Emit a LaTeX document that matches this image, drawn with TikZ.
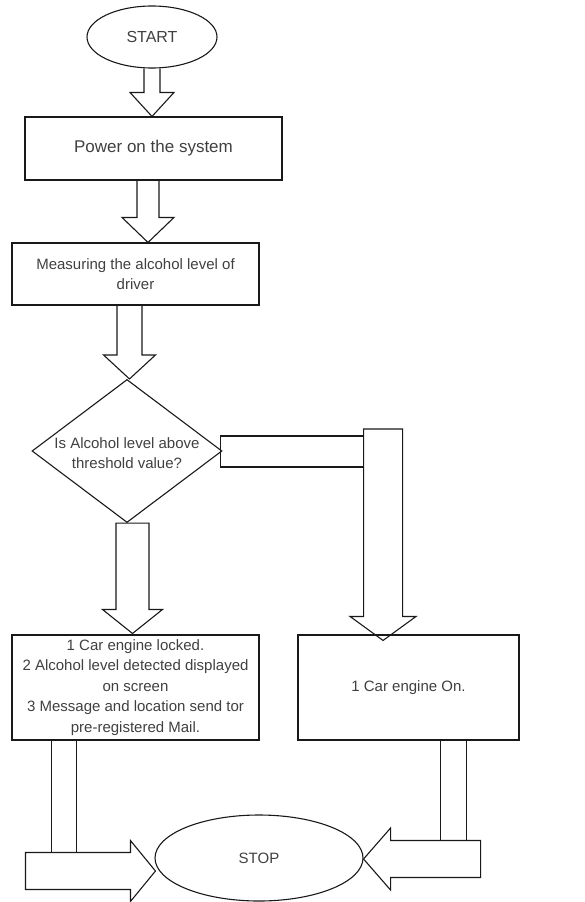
\documentclass[tikz,border=0pt]{standalone}
\usepackage{fontspec}
\setmainfont{Liberation Sans}
\usetikzlibrary{shapes.geometric,calc}
\newcommand\blkdown[6]{%
  \draw[blk] let \p1=#1, \p2=#2 in
    (\x1-#3,\y1) -- (\x1-#3,\y2+#5) -- (\x1-#4,\y2+#5) -- (\x1,\y2)
    -- (\x1+#4,\y2+#5) -- (\x1+#3,\y2+#5) -- (\x1+#3,\y1) #6;}
\begin{document}
\begin{tikzpicture}[x=1pt,y=-1pt,
  lbl/.style={font=\fontsize{15}{20.5}\selectfont, text=black!75, align=center},
  shp/.style={lbl, draw=black!90, line width=1.1pt, inner sep=0pt},
  box/.style={shp, rectangle},
  oval/.style={shp, ellipse},
  dia/.style={shp, diamond},
  txt/.style={lbl, inner sep=0pt},
  blk/.style={draw=black!90, line width=1.1pt, line join=miter}]
\useasboundingbox (0,0) rectangle (584,902);

% nodes
\node[oval, minimum width=130pt, minimum height=62pt, font=\fontsize{16}{20}\selectfont] (start) at (152,37) {START};
\node[box, minimum width=257pt, minimum height=63pt, font=\fontsize{17}{20}\selectfont] (power) at (153.5,148.5) {Power on the system};
\node[box, minimum width=247pt, minimum height=62pt] (measure) at (135.5,274) {Measuring the alcohol level of\\driver};
\node[dia, minimum width=190pt, minimum height=143pt] (dec) at (127,451) {};
\node[txt] (dectext) at (127,453) {Is Alcohol level above\\threshold value?};
\node[box, minimum width=247pt, minimum height=105pt] (locked) at (135.5,687.5)
  {1 Car engine locked.\\2 Alcohol level detected displayed\\on screen\\3 Message and location send tor\\pre-registered Mail.};
\node[box, minimum width=221pt, minimum height=105pt] (on) at (408.5,687.5) {1 Car engine On.};
\node[oval, minimum width=208pt, minimum height=86pt] (stop) at (259,858) {STOP};

% block arrows down the main column
\blkdown{(start.south)}{(power.north -| start.south)}{8pt}{22pt}{24pt}{}
\blkdown{([xshift=-5.5pt]power.south)}{([xshift=-5.5pt]measure.north)}{11pt}{26pt}{25pt}{}
\blkdown{([xshift=-6pt]measure.south)}{(dec.north)}{12.5pt}{26pt}{24pt}{}
\blkdown{([xshift=5.5pt]dec.south)}{([xshift=-3pt,yshift=1pt]locked.north)}{16.5pt}{30pt}{24pt}{-- cycle}

% yes branch: dec -> on
\draw[blk] ($(dec.east)+(-2,-15)$) rectangle ($(dec.east)+(141,16)$);
\coordinate (ytop) at ($(dec.east)+(160.5,-22)$);
\coordinate (ytip) at ($(on.north)+(-26,6)$);
\blkdown{(ytop)}{(ytip -| ytop)}{19.5pt}{33pt}{24pt}{-- cycle}

% locked -> stop
\coordinate (l1) at ($(locked.south west)+(40,0)$);
\coordinate (l2) at ($(locked.south west)+(65,0)$);
\coordinate (ltip) at ($(stop.west)+(1,13)$);
\draw[blk] (l1) -- (l1 |- 0,852.5);
\draw[blk] (l2) -- (l2 |- 0,852.5);
\draw[blk] (ltip) -- ++(-25,-30.5) -- ++(0,12) -- ++(-105,0) -- ++(0,37) -- ++(105,0) -- ++(0,12) -- cycle;

% on -> stop
\coordinate (r1) at ($(on.south west)+(143,0)$);
\coordinate (r2) at ($(on.south west)+(169,0)$);
\coordinate (rtip) at ($(stop.east)+(0,1)$);
\draw[blk] (r1) -- (r1 |- 0,840.5);
\draw[blk] (r2) -- (r2 |- 0,840.5);
\draw[blk] (rtip) -- ++(27,-31) -- ++(0,12.5) -- ++(90,0) -- ++(0,37) -- ++(-90,0) -- ++(0,12.5) -- cycle;
\end{tikzpicture}
\end{document}
